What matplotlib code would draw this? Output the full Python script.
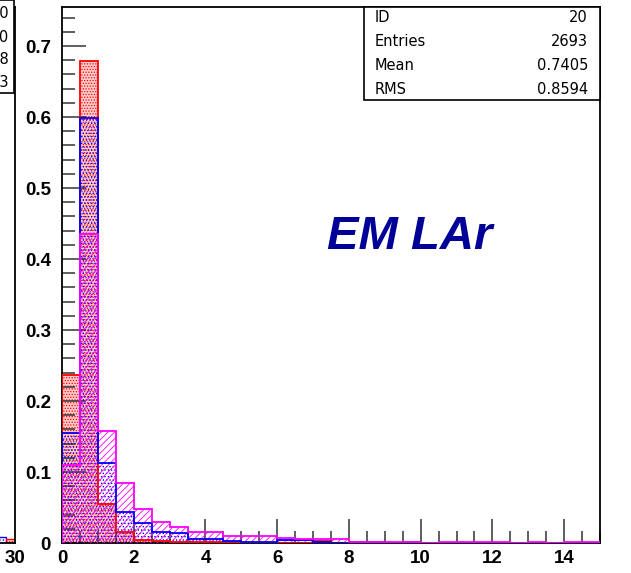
import numpy as np
import matplotlib
matplotlib.use("Agg")
import matplotlib.pyplot as plt
from matplotlib.patches import Rectangle

# Histogram contents, bins of 0.5 from 0 to 15
edges = np.arange(0, 15.01, 0.5)
red_vals = [0.236, 0.679, 0.055, 0.015, 0.004, 0.003, 0.002, 0.002, 0.002, 0.001,
            0, 0, 0, 0, 0.003, 0, 0, 0, 0, 0,
            0, 0, 0, 0, 0, 0, 0, 0, 0, 0]
blue_vals = [0.155, 0.599, 0.112, 0.044, 0.028, 0.015, 0.014, 0.006, 0.005, 0.003,
             0.002, 0.002, 0.004, 0.004, 0.001, 0, 0.002, 0.002, 0, 0.002,
             0, 0, 0, 0, 0, 0, 0, 0, 0, 0]
mag_vals = [0.110, 0.435, 0.158, 0.085, 0.048, 0.030, 0.022, 0.015, 0.015, 0.010,
            0.010, 0.010, 0.0075, 0.005, 0.005, 0.005, 0.002, 0.002, 0.002, 0.002,
            0, 0.0015, 0.0015, 0.0015, 0.0015, 0, 0.0015, 0, 0.0015, 0.0015]

stat_names = ["ID", "Entries", "Mean", "RMS"]
stat_values = ["20", "2693", "0.7405", "0.8594"]
left_stat_values = ["10", "2690", "1.238", "3.513"]

W, H = 631, 573
fig = plt.figure(figsize=(W / 100, H / 100), dpi=100)
plt.rcParams['hatch.linewidth'] = 0.6

def fx(px):
    return px / W

def fy(py):
    return 1 - py / H

# neighbouring panel, only its right edge is visible
axl = fig.add_axes([fx(15 - 538), fy(543), 538 / W, 536 / H])
axl.set_xlim(0, 30)
axl.set_ylim(0, 0.755)
axl.bar([29.0], [0.009], width=0.5, align='edge', facecolor='none',
        edgecolor='blue', hatch='.....', lw=1)
axl.bar([29.5], [0.006], width=0.5, align='edge', facecolor='#ffcccc',
        edgecolor='red', hatch='......', lw=1)
axl.set_yticks([])
axl.set_xticks([30])
axl.set_xticklabels(["30"], fontsize=13.5, fontweight='bold', family='Liberation Sans')
axl.tick_params(axis='x', direction='in', length=0, pad=5)
for s in axl.spines.values():
    s.set_linewidth(1.3)
fig.patches.append(Rectangle((fx(-200), fy(93)), fx(214), 93 / H, transform=fig.transFigure,
                             facecolor='white', edgecolor='black', lw=1.2, zorder=5))
for i, v in enumerate(left_stat_values):
    fig.text(fx(9), fy(14 + 23 * i), v, ha='right', va='center', fontsize=10.5,
             family='DejaVu Sans', zorder=6)

# main panel
ax = fig.add_axes([fx(62), fy(543), 538 / W, 536 / H])
ax.set_xlim(0, 15)
ax.set_ylim(0, 0.755)

ax.stairs(red_vals, edges, fill=True, facecolor='#ffcccc', edgecolor='red',
          hatch='......', lw=0, zorder=1)
ax.stairs(red_vals, edges, color='red', lw=1.3, zorder=4)
ax.stairs(blue_vals, edges, fill=True, facecolor='none', edgecolor='blue',
          hatch='.....', lw=0, zorder=2)
ax.stairs(blue_vals, edges, color='blue', lw=1.3, zorder=4)
ax.stairs(mag_vals, edges, fill=True, facecolor='none', edgecolor='magenta',
          hatch='/////', lw=0, zorder=3)
ax.stairs(mag_vals, edges, color='magenta', lw=1.3, zorder=4)

ax.set_xticks(np.arange(0, 15, 2))
ax.set_xticks(np.arange(0, 15.01, 0.5), minor=True)
ax.set_yticks(np.arange(0, 0.71, 0.1))
ax.set_yticks(np.arange(0, 0.755, 0.02), minor=True)
ax.set_xticklabels([f"{v:d}" for v in range(0, 15, 2)])
ax.set_yticklabels(["0"] + [f"{v:.1f}" for v in np.arange(0.1, 0.71, 0.1)])
for lab in ax.get_xticklabels() + ax.get_yticklabels():
    lab.set_fontsize(13.5)
    lab.set_fontweight('bold')
    lab.set_family('Liberation Sans')
ax.tick_params(which='major', direction='in', length=17, width=1.1, color='#333333')
ax.tick_params(which='minor', direction='in', length=9, width=1.1, color='#333333')
ax.tick_params(axis='x', pad=5)
ax.tick_params(axis='y', pad=8)
for s in ax.spines.values():
    s.set_linewidth(1.3)

# statistics box
bx0 = (364 - 62) / 538
by0 = (543 - 100) / 536
ax.add_patch(Rectangle((bx0, by0), 1 - bx0, 1 - by0, transform=ax.transAxes,
                       facecolor='white', edgecolor='black', lw=1.2, zorder=10,
                       clip_on=False))
for i, (n, v) in enumerate(zip(stat_names, stat_values)):
    y = fy(18 + 23.7 * i)
    fig.text(fx(375), y, n, ha='left', va='center', fontsize=10.5,
             family='DejaVu Sans', zorder=11)
    fig.text(fx(588), y, v, ha='right', va='center', fontsize=10.5,
             family='DejaVu Sans', zorder=11)

fig.text(fx(410), fy(237), "EM LAr", ha='center', va='center', fontsize=34,
         fontweight='bold', fontstyle='italic', family='Liberation Sans',
         color='#000099')

fig.savefig("out.png", dpi=100)
